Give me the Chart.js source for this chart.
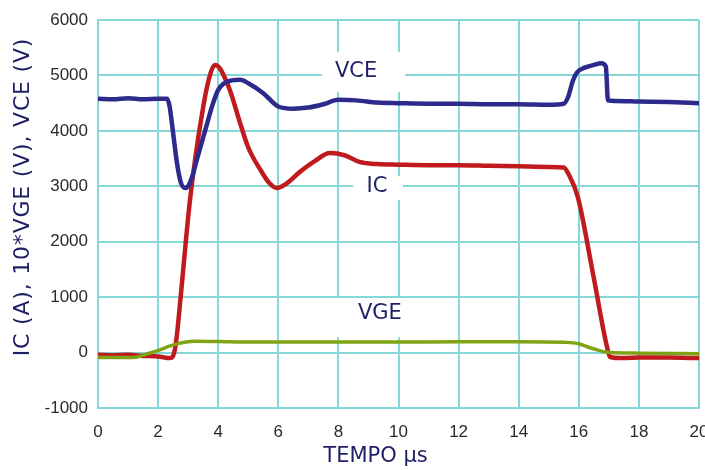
<!DOCTYPE html>
<html>
<head>
<meta charset="utf-8">
<script src="https://cdn.jsdelivr.net/npm/chart.js@4/dist/chart.umd.min.js"></script>
<style>
html,body{margin:0;padding:0;background:#ffffff;}
#wrap{width:705px;height:470px;}
</style>
</head>
<body>
<div id="wrap"><canvas id="c" width="705" height="470"></canvas></div>
<script>
// ---- data ----
const xTicks = [0, 2, 4, 6, 8, 10, 12, 14, 16, 18, 20];
const yTicks = [-1000, 0, 1000, 2000, 3000, 4000, 5000, 6000];

const vceT = [0, 0.5, 1.0, 1.5, 2.0, 2.3, 2.38, 2.5, 2.62, 2.75, 2.9, 3.0, 3.15, 3.3, 3.6, 3.8, 4.0, 4.2, 4.45, 4.73, 5.0, 5.5, 6.0, 6.5, 7.0, 7.5, 8.0, 8.6, 9.3, 10.0, 11.0, 12.0, 13.0, 14.0, 15.0, 15.5, 15.65, 15.8, 15.95, 16.2, 16.5, 16.75, 16.9, 16.97, 17.2, 18.0, 19.0, 20.0];
const vceV = [4580, 4570, 4590, 4570, 4580, 4580, 4450, 3960, 3450, 3080, 2970, 3000, 3200, 3500, 4070, 4450, 4740, 4860, 4910, 4920, 4860, 4680, 4440, 4400, 4420, 4480, 4560, 4550, 4510, 4500, 4490, 4490, 4480, 4480, 4470, 4490, 4620, 4900, 5060, 5140, 5190, 5220, 5160, 4550, 4540, 4530, 4520, 4500];

const icT = [0, 0.5, 1.0, 1.5, 2.0, 2.4, 2.5, 2.6, 2.75, 3.06, 3.5, 3.75, 3.9, 4.05, 4.2, 4.4, 4.73, 5.0, 5.4, 5.7, 5.95, 6.3, 6.72, 7.2, 7.72, 8.2, 8.7, 9.3, 10.0, 11.0, 12.0, 13.0, 14.0, 15.0, 15.5, 15.64, 15.97, 16.47, 16.94, 17.04, 17.5, 18.0, 19.0, 20.0];
const icV = [-40, -50, -40, -60, -70, -100, -60, 200, 1000, 2750, 4430, 5050, 5190, 5130, 4980, 4720, 4140, 3700, 3300, 3060, 2970, 3060, 3260, 3450, 3600, 3560, 3440, 3400, 3390, 3380, 3380, 3370, 3360, 3350, 3340, 3240, 2800, 1430, 100, -80, -100, -90, -90, -100];

const vgeT = [0, 0.5, 1.0, 1.3, 1.6, 2.06, 2.4, 2.73, 3.17, 4.0, 5.0, 7.2, 10.0, 12.0, 14.0, 15.5, 16.0, 16.3, 16.6, 16.9, 17.2, 18.0, 20.0];
const vgeV = [-90, -90, -90, -80, -30, 50, 120, 170, 205, 200, 190, 190, 190, 195, 195, 185, 160, 100, 50, 10, -5, -10, -20];

const seriesNames = ['VCE', 'IC', 'VGE'];
const xTitle = 'TEMPO µs';
const yTitle = 'IC (A), 10*VGE (V), VCE (V)';

// ---- in-plot label placement (data coordinates) ----
const inlineLabels = [
  {text: 'VCE', x: 8.59, y: 5063, box: [7.45, 10.22, 5424, 4702]},
  {text: 'IC',  x: 9.28, y: 2987, box: [8.49, 10.15, 3186, 2753]},
  {text: 'VGE', x: 9.38, y: 713,  box: [7.95, 10.88, 984, 280]}
];

function pts(t, v) { return t.map((x, i) => ({x: x, y: v[i]})); }

const gridColor = '#86d8d8';
const titleColor = '#1f1f66';

const labelsPlugin = {
  id: 'inlineLabels',
  beforeDatasetsDraw(chart) {
    const ctx = chart.ctx, xs = chart.scales.x, ys = chart.scales.y;
    ctx.save();
    ctx.fillStyle = '#ffffff';
    inlineLabels.forEach(l => {
      const x0 = xs.getPixelForValue(l.box[0]), x1 = xs.getPixelForValue(l.box[1]);
      const y0 = ys.getPixelForValue(l.box[2]), y1 = ys.getPixelForValue(l.box[3]);
      ctx.fillRect(x0, y0, x1 - x0, y1 - y0);
    });
    ctx.fillStyle = titleColor;
    ctx.font = '21px "DejaVu Sans"';
    ctx.textAlign = 'center';
    ctx.textBaseline = 'middle';
    inlineLabels.forEach(l => {
      ctx.fillText(l.text, xs.getPixelForValue(l.x), ys.getPixelForValue(l.y));
    });
    ctx.restore();
  },
  afterDraw(chart) {
    const ctx = chart.ctx, ca = chart.chartArea;
    ctx.save();
    ctx.fillStyle = titleColor;
    ctx.font = '21px "DejaVu Sans"';
    ctx.textAlign = 'center';
    ctx.textBaseline = 'middle';
    ctx.fillText(xTitle, (ca.left + ca.right) / 2 - 23, 457);
    ctx.translate(23, (ca.top + ca.bottom) / 2 - 17);
    ctx.rotate(-Math.PI / 2);
    ctx.font = '22px "DejaVu Sans"';
    try { ctx.letterSpacing = '0.8px'; } catch (e) {}
    ctx.fillText(yTitle, 0, 0);
    ctx.restore();
  }
};

function zeroPad(s) { s.paddingLeft = 0; s.paddingRight = 0; s.paddingTop = 0; s.paddingBottom = 0; }

new Chart(document.getElementById('c'), {
  type: 'line',
  data: {
    datasets: [
      {label: seriesNames[2], data: pts(vgeT, vgeV), borderColor: '#7fa315', borderWidth: 3.5, order: 0},
      {label: seriesNames[0], data: pts(vceT, vceV), borderColor: '#2c2b8c', borderWidth: 4.5, order: 1},
      {label: seriesNames[1], data: pts(icT, icV), borderColor: '#c01a1f', borderWidth: 4.5, order: 2}
    ]
  },
  options: {
    responsive: false,
    devicePixelRatio: 1,
    animation: false,
    elements: {
      point: {radius: 0},
      line: {cubicInterpolationMode: 'monotone', fill: false, borderCapStyle: 'round', borderJoinStyle: 'round'}
    },
    layout: {padding: {left: 0, right: 6, top: 20, bottom: 0}},
    plugins: {legend: {display: false}, tooltip: {enabled: false}},
    scales: {
      x: {
        type: 'linear', min: 0, max: 20,
        afterBuildTicks: s => { s.ticks = xTicks.map(v => ({value: v})); },
        afterFit: s => { s.height = 62; zeroPad(s); },
        grid: {color: gridColor, lineWidth: 2, drawTicks: false},
        border: {color: gridColor, width: 2},
        ticks: {padding: 14, color: '#2a2a2a', font: {family: 'Liberation Sans', size: 17}, maxRotation: 0, callback: v => String(v)}
      },
      y: {
        type: 'linear', min: -1000, max: 6000,
        afterBuildTicks: s => { s.ticks = yTicks.map(v => ({value: v})); },
        afterFit: s => { s.width = 98; zeroPad(s); },
        grid: {color: gridColor, lineWidth: 2, drawTicks: false},
        border: {color: gridColor, width: 2},
        ticks: {padding: 10, color: '#2a2a2a', font: {family: 'Liberation Sans', size: 17}, callback: v => String(v)}
      }
    }
  },
  plugins: [labelsPlugin]
});
</script>
</body>
</html>
